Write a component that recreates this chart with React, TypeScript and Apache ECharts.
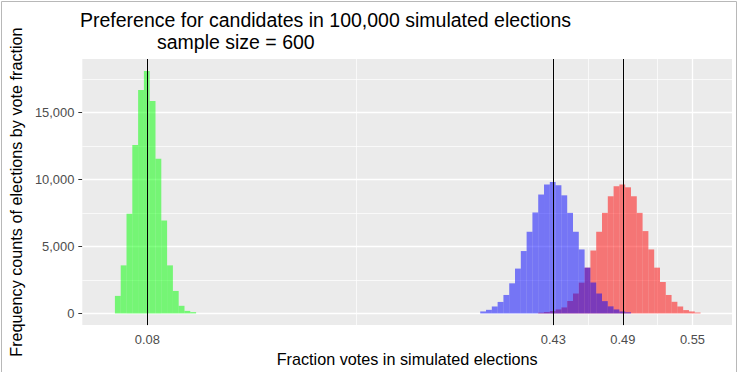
import React, { useEffect, useRef } from "react";
import * as echarts from "echarts";

// ---- data ----
const binWidth = 0.005;
const greenStart = 0.052;
const greenCounts = [1310, 3590, 7440, 12570, 16690, 18100, 15870, 11550, 6940, 3590, 1680, 570, 190, 100];
const blueStart = 0.367;
const blueCounts = [150, 270, 520, 860, 1380, 2250, 3350, 4660, 6100, 7540, 8880, 9620, 9820, 9570, 8820, 7510, 6100, 4780, 3420, 2310, 1490, 920, 530, 300, 150, 90];
const redStart = 0.417;
const redCounts = [60, 110, 180, 300, 450, 930, 1490, 2300, 3420, 4700, 6100, 7510, 8750, 9500, 9620, 9420, 8750, 7510, 6150, 4780, 3420, 2350, 1380, 870, 520, 250, 150, 70];
const candidateFractions = [0.08, 0.43, 0.49];
const xTicks = [0.08, 0.43, 0.49, 0.55];
const xMinor = [0.255, 0.46, 0.52];
const yTicks = [0, 5000, 10000, 15000];
const yMinor = [2500, 7500, 12500, 17500];

const FONT = "'Liberation Sans', Arial, sans-serif";

function bins(start: number, counts: number[]) {
  return counts.map((c, i) => [start + i * binWidth, start + (i + 1) * binWidth, c]);
}

function histSeries(name: string, start: number, counts: number[], fill: string, extra: any = {}) {
  return {
    type: "custom",
    name,
    data: bins(start, counts),
    encode: { x: [0, 1], y: 2 },
    renderItem: (params: any, api: any) => {
      const p0 = api.coord([api.value(0), api.value(2)]);
      const p1 = api.coord([api.value(1), 0]);
      return {
        type: "rect",
        shape: { x: p0[0], y: p0[1], width: p1[0] - p0[0], height: p1[1] - p0[1] },
        style: { fill },
      };
    },
    ...extra,
  };
}

export default function App() {
  const ref = useRef<HTMLDivElement>(null);
  useEffect(() => {
    document.body.style.margin = "0";
    const chart = echarts.init(ref.current!, null, { renderer: "svg" });
    const gridLines = [
      ...yMinor.map((v) => ({ yAxis: v, lineStyle: { width: 0.7 } })),
      ...yTicks.map((v) => ({ yAxis: v, lineStyle: { width: 1.3 } })),
      ...xMinor.map((v) => ({ xAxis: v, lineStyle: { width: 0.7 } })),
      ...xTicks.map((v) => ({ xAxis: v, lineStyle: { width: 1.3 } })),
    ];
    chart.setOption({
      animation: false,
      textStyle: { fontFamily: FONT },
      grid: {
        left: 80,
        top: 59,
        width: 652,
        height: 267,
        show: true,
        backgroundColor: "#EBEBEB",
        borderWidth: 0,
      },
      xAxis: {
        type: "value",
        min: 0.0239,
        max: 0.5841,
        axisLine: { show: false },
        splitLine: { show: false },
        axisTick: { show: true, customValues: xTicks, length: 4, lineStyle: { color: "#333333", width: 1 } },
        axisLabel: {
          customValues: xTicks,
          formatter: (v: number) => v.toFixed(2),
          color: "#4D4D4D",
          fontSize: 12.9,
          margin: 8,
          fontFamily: FONT,
        },
        name: "Fraction votes in simulated elections",
        nameLocation: "middle",
        nameGap: 25,
        nameTextStyle: { color: "#000000", fontSize: 16.2, fontFamily: FONT },
      },
      yAxis: {
        type: "value",
        min: -870,
        max: 19000,
        axisLine: { show: false },
        splitLine: { show: false },
        axisTick: { show: true, customValues: yTicks, length: 4, lineStyle: { color: "#333333", width: 1 } },
        axisLabel: {
          customValues: yTicks,
          formatter: (v: number) => v.toLocaleString("en-US"),
          color: "#4D4D4D",
          fontSize: 12.9,
          margin: 8,
          fontFamily: FONT,
        },
        name: "Frequency counts of elections by vote fraction",
        nameLocation: "middle",
        nameGap: 51,
        nameTextStyle: { color: "#000000", fontSize: 16.2, fontFamily: FONT },
      },
      graphic: [
        {
          type: "rect",
          shape: { x: 1.5, y: 1.5, width: 735, height: 375 },
          style: { fill: "none", stroke: "#B8B8B8", lineWidth: 1 },
          silent: true,
        },
        {
          type: "text",
          x: 80,
          y: 20,
          style: {
            text: "Preference for candidates in 100,000 simulated elections",
            fill: "#000000",
            font: `19.5px ${FONT}`,
            verticalAlign: "middle",
            align: "left",
          },
        },
        {
          type: "text",
          x: 157,
          y: 42,
          style: {
            text: "sample size = 600",
            fill: "#000000",
            font: `19.5px ${FONT}`,
            verticalAlign: "middle",
            align: "left",
          },
        },
      ],
      series: [
        histSeries("red", redStart, redCounts, "rgba(255,0,0,0.5)", {
          markLine: {
            z: 1,
            silent: true,
            symbol: "none",
            label: { show: false },
            lineStyle: { color: "#FFFFFF", type: "solid" },
            data: gridLines,
          },
        }),
        histSeries("blue", blueStart, blueCounts, "rgba(0,0,255,0.5)"),
        histSeries("green", greenStart, greenCounts, "rgba(0,255,0,0.5)", {
          markLine: {
            silent: true,
            symbol: "none",
            label: { show: false },
            lineStyle: { color: "#000000", type: "solid", width: 1 },
            data: candidateFractions.map((v) => ({ xAxis: v })),
          },
        }),
      ],
    });
    return () => chart.dispose();
  }, []);
  return <div ref={ref} style={{ width: 738, height: 372 }} />;
}
